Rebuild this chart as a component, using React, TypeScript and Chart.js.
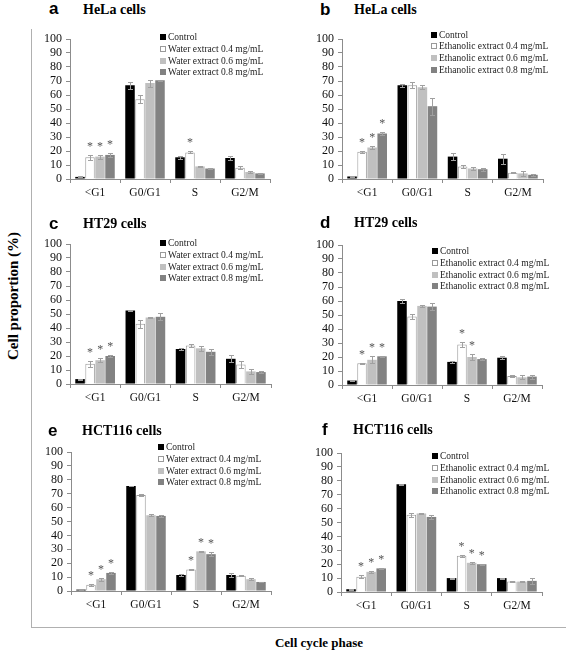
import React, { useEffect, useRef } from 'react';
import { Chart, registerables } from 'chart.js';

Chart.register(...registerables);

const categories = ['<G1', 'G0/G1', 'S', 'G2/M'];
const waterLabels = ['Control', 'Water extract 0.4 mg/mL', 'Water extract 0.6 mg/mL', 'Water extract 0.8 mg/mL'];
const ethanolLabels = ['Control', 'Ethanolic extract 0.4 mg/mL', 'Ethanolic extract 0.6 mg/mL', 'Ethanolic extract 0.8 mg/mL'];
const seriesColors = ['#000000', '#ffffff', '#c0c0c0', '#828282'];

// a: HeLa, water extract (rows: Control, 0.4, 0.6, 0.8; columns: categories)
const helaWater = [
  [1.5, 67, 15.5, 15],
  [15.5, 57, 19, 8],
  [16, 68.5, 9, 5],
  [17.2, 70.5, 7.5, 4],
];
const helaWaterErr = [
  [0.3, 2.5, 1, 1.5],
  [2, 3, 0.7, 1],
  [1.5, 2.5, 0.5, 0.8],
  [1.2, 0.5, 0.3, 0.5],
];
const helaWaterStars = [
  [0, 0, 0, 0],
  [1, 0, 1, 0],
  [1, 0, 0, 0],
  [1, 0, 0, 0],
];

// b: HeLa, ethanolic extract
const helaEthanol = [
  [1.8, 67, 16, 14.5],
  [19.5, 67, 9, 4.5],
  [22.5, 65.5, 7.5, 4],
  [32.5, 52, 7, 3],
];
const helaEthanolErr = [
  [0.2, 1, 2.5, 3.5],
  [0.8, 2, 0.8, 0.5],
  [0.8, 1.5, 1, 1.5],
  [1, 6, 1, 0.5],
];
const helaEthanolStars = [
  [0, 0, 0, 0],
  [1, 0, 0, 0],
  [1, 0, 0, 0],
  [1, 0, 0, 0],
];

// c: HT29, water extract
const ht29Water = [
  [3.5, 52.5, 25, 18],
  [14.5, 43, 27.5, 14],
  [17, 47.5, 25.5, 9],
  [20, 48, 23, 8.5],
];
const ht29WaterErr = [
  [0.3, 0.7, 0.5, 2.5],
  [2, 3, 1, 2.5],
  [1.5, 0.5, 2, 1.5],
  [1, 2.5, 2, 0.5],
];
const ht29WaterStars = [
  [0, 0, 0, 0],
  [1, 0, 0, 0],
  [1, 0, 0, 0],
  [1, 0, 0, 0],
];

// d: HT29, ethanolic extract
const ht29Ethanol = [
  [3.2, 60, 16.5, 19.5],
  [15.5, 49, 29, 6.5],
  [18, 56.5, 20, 5.5],
  [20.5, 56, 18.5, 6],
];
const ht29EthanolErr = [
  [0.3, 1.5, 1, 1],
  [0.5, 1.5, 1.5, 0.5],
  [2.5, 1, 2, 1.5],
  [0.5, 2.5, 0.5, 1.5],
];
const ht29EthanolStars = [
  [0, 0, 0, 0],
  [1, 0, 1, 0],
  [1, 0, 1, 0],
  [1, 0, 0, 0],
];

// e: HCT116, water extract
const hct116Water = [
  [1, 75.5, 11.5, 11.5],
  [4.5, 69, 15.5, 11],
  [8.5, 54.5, 28.5, 8.5],
  [13, 54, 26.5, 6.5],
];
const hct116WaterErr = [
  [0.2, 0.3, 0.5, 1.2],
  [0.7, 0.5, 0.5, 0.3],
  [1, 0.7, 0.5, 0.5],
  [0.5, 0.7, 1.2, 0.3],
];
const hct116WaterStars = [
  [0, 0, 0, 0],
  [1, 0, 1, 0],
  [1, 0, 1, 0],
  [1, 0, 1, 0],
];

// f: HCT116, ethanolic extract
const hct116Ethanol = [
  [2, 77.5, 10, 10],
  [11, 55.5, 26, 7.5],
  [14.5, 56.5, 21, 7.5],
  [17, 54, 20, 8],
];
const hct116EthanolErr = [
  [0.3, 0.3, 0.3, 0.3],
  [1, 1.2, 0.5, 0.5],
  [0.5, 0.5, 0.5, 0.5],
  [0.5, 1.5, 0.5, 2],
];
const hct116EthanolStars = [
  [0, 0, 0, 0],
  [1, 0, 1, 0],
  [1, 0, 1, 0],
  [1, 0, 1, 0],
];

const SERIF = '"Liberation Serif", "Times New Roman", serif';
const SANS = '"Liberation Sans", Arial, sans-serif';
const AXIS_COLOR = '#8c8c8c';

type PanelDef = {
  letter: string;
  title: string;
  labels: string[];
  values: number[][];
  errors: number[][];
  stars: number[][];
  area: [number, number, number, number]; // l, t, r, b in page px
  canvasLeft: number;
  canvasWidth: number;
  legend: [number, number];
  letterPos: [number, number];
  titlePos: [number, number];
};

function Panel({ def }: { def: PanelDef }) {
  const ref = useRef<HTMLCanvasElement>(null);
  const [l, t, r, b] = def.area;
  const cl = def.canvasLeft;
  const cw = def.canvasWidth;
  const ct = t - 14;
  const ch = b + 26 - ct;

  useEffect(() => {
    if (!ref.current) return;
    const overlay = {
      id: 'overlay',
      afterDatasetsDraw(chart: any) {
        const ctx = chart.ctx as CanvasRenderingContext2D;
        const ys = chart.scales.y;
        ctx.save();
        chart.data.datasets.forEach((_ds: any, di: number) => {
          const meta = chart.getDatasetMeta(di);
          meta.data.forEach((bar: any, i: number) => {
            const v = def.values[di][i];
            const e = def.errors[di][i];
            const x = Math.round(bar.x) + 0.5;
            const yTop = Math.round(ys.getPixelForValue(v + e)) + 0.5;
            const yBot = Math.round(ys.getPixelForValue(Math.max(0, v - e))) + 0.5;
            ctx.strokeStyle = '#a0a0a0';
            ctx.lineWidth = 1;
            ctx.beginPath();
            ctx.moveTo(x, yTop);
            ctx.lineTo(x, yBot);
            ctx.moveTo(x - 2.5, yTop);
            ctx.lineTo(x + 2.5, yTop);
            ctx.moveTo(x - 2.5, yBot);
            ctx.lineTo(x + 2.5, yBot);
            ctx.stroke();
            if (def.stars[di][i]) {
              ctx.fillStyle = '#555555';
              ctx.font = `12px ${SERIF}`;
              ctx.textAlign = 'center';
              ctx.textBaseline = 'alphabetic';
              ctx.fillText('*', bar.x, yTop - 12 + 6);
            }
          });
        });
        // legend
        const lx = def.legend[0] - cl;
        const ly = def.legend[1] - ct;
        def.labels.forEach((lab, k) => {
          const y = ly + k * 11.8;
          ctx.fillStyle = seriesColors[k];
          ctx.fillRect(lx, Math.round(y - 3), 6, 6);
          if (k === 1) {
            ctx.strokeStyle = '#9a9a9a';
            ctx.lineWidth = 1;
            ctx.strokeRect(lx + 0.5, Math.round(y - 3) + 0.5, 5, 5);
          }
          ctx.fillStyle = '#222222';
          ctx.font = `9.5px ${SERIF}`;
          ctx.textAlign = 'left';
          ctx.textBaseline = 'middle';
          ctx.fillText(lab, lx + 8, y + 0.5);
        });
        ctx.restore();
      },
    };

    const chart = new Chart(ref.current, {
      type: 'bar',
      data: {
        labels: categories,
        datasets: def.labels.map((lab, k) => ({
          label: lab,
          data: def.values[k],
          backgroundColor: seriesColors[k],
          borderColor: k === 1 ? '#9a9a9a' : seriesColors[k],
          borderWidth: k === 1 ? 1 : 0,
          categoryPercentage: 0.8,
          barPercentage: 0.95,
        })),
      },
      options: {
        responsive: false,
        maintainAspectRatio: false,
        animation: false,
        layout: { padding: { left: 0, top: t - ct, right: cl + cw - r, bottom: 0 } },
        plugins: {
          legend: { display: false },
          tooltip: { enabled: false },
        },
        scales: {
          x: {
            grid: { display: true, drawOnChartArea: false, drawTicks: true, tickLength: 4, offset: true, color: AXIS_COLOR },
            border: { display: true, color: AXIS_COLOR },
            ticks: { color: '#111111', font: { family: SERIF, size: 11.5 }, padding: 3, maxRotation: 0, autoSkip: false },
            afterFit: (s: any) => {
              s.height = ct + ch - b;
            },
          },
          y: {
            min: 0,
            max: 100,
            ticks: { stepSize: 10, autoSkip: false, color: '#111111', font: { family: SERIF, size: 12 }, padding: 4 },
            grid: { display: true, drawOnChartArea: false, drawTicks: true, tickLength: 4, color: AXIS_COLOR },
            border: { display: true, color: AXIS_COLOR },
            afterFit: (s: any) => {
              s.width = l - cl;
            },
          },
        },
      },
      plugins: [overlay],
    });
    return () => chart.destroy();
  }, []);

  return (
    <>
      <canvas
        ref={ref}
        width={cw}
        height={ch}
        style={{ position: 'absolute', left: cl, top: ct, width: cw, height: ch }}
      />
      <div
        style={{
          position: 'absolute',
          left: def.letterPos[0],
          top: def.letterPos[1] - 17 * 0.55,
          font: `bold 17px ${SANS}`,
          lineHeight: '17px',
          color: '#000',
          whiteSpace: 'nowrap',
        }}
      >
        {def.letter}
      </div>
      <div
        style={{
          position: 'absolute',
          left: def.titlePos[0],
          top: def.titlePos[1] - 7,
          font: `bold 14px ${SERIF}`,
          lineHeight: '14px',
          color: '#000',
          whiteSpace: 'nowrap',
        }}
      >
        {def.title}
      </div>
    </>
  );
}

const panels: PanelDef[] = [
  {
    letter: 'a', title: 'HeLa cells', labels: waterLabels,
    values: helaWater, errors: helaWaterErr, stars: helaWaterStars,
    area: [70, 39, 270, 179], canvasLeft: 34, canvasWidth: 246,
    legend: [160, 37], letterPos: [49, 9.5], titlePos: [83, 9.5],
  },
  {
    letter: 'b', title: 'HeLa cells', labels: ethanolLabels,
    values: helaEthanol, errors: helaEthanolErr, stars: helaEthanolStars,
    area: [342, 39, 543, 179], canvasLeft: 296, canvasWidth: 271,
    legend: [431, 34.5], letterPos: [320, 10], titlePos: [354, 10],
  },
  {
    letter: 'c', title: 'HT29 cells', labels: waterLabels,
    values: ht29Water, errors: ht29WaterErr, stars: ht29WaterStars,
    area: [70, 244, 271, 384], canvasLeft: 34, canvasWidth: 246,
    legend: [160, 243], letterPos: [49, 224], titlePos: [83, 224],
  },
  {
    letter: 'd', title: 'HT29 cells', labels: ethanolLabels,
    values: ht29Ethanol, errors: ht29EthanolErr, stars: ht29EthanolStars,
    area: [342, 245, 542, 385], canvasLeft: 296, canvasWidth: 271,
    legend: [432, 251], letterPos: [320, 223], titlePos: [354, 223],
  },
  {
    letter: 'e', title: 'HCT116 cells', labels: waterLabels,
    values: hct116Water, errors: hct116WaterErr, stars: hct116WaterStars,
    area: [71, 452, 271, 591], canvasLeft: 34, canvasWidth: 246,
    legend: [158, 447], letterPos: [48, 431], titlePos: [82, 431],
  },
  {
    letter: 'f', title: 'HCT116 cells', labels: ethanolLabels,
    values: hct116Ethanol, errors: hct116EthanolErr, stars: hct116EthanolStars,
    area: [341, 453, 542, 592], canvasLeft: 296, canvasWidth: 271,
    legend: [432, 456], letterPos: [322, 430], titlePos: [353, 430],
  },
];

export default function App() {
  return (
    <div style={{ position: 'absolute', left: 0, top: 0, width: 567, height: 652, background: '#fff', overflow: 'hidden' }}>
      <div
        style={{
          position: 'absolute',
          left: 31,
          top: 29,
          width: 534,
          height: 598,
          borderLeft: '1px solid #b0b0b0',
          borderBottom: '1px solid #b0b0b0',
        }}
      />
      {panels.map((p) => (
        <Panel key={p.letter} def={p} />
      ))}
      <div
        style={{
          position: 'absolute',
          left: 13,
          top: 296,
          transform: 'translate(-50%, -50%) rotate(-90deg)',
          font: `bold 15px ${SERIF}`,
          whiteSpace: 'nowrap',
          color: '#000',
        }}
      >
        Cell proportion (%)
      </div>
      <div
        style={{
          position: 'absolute',
          left: 319,
          top: 643,
          transform: 'translate(-50%, -50%)',
          font: `bold 13px ${SERIF}`,
          whiteSpace: 'nowrap',
          color: '#000',
        }}
      >
        Cell cycle phase
      </div>
    </div>
  );
}
